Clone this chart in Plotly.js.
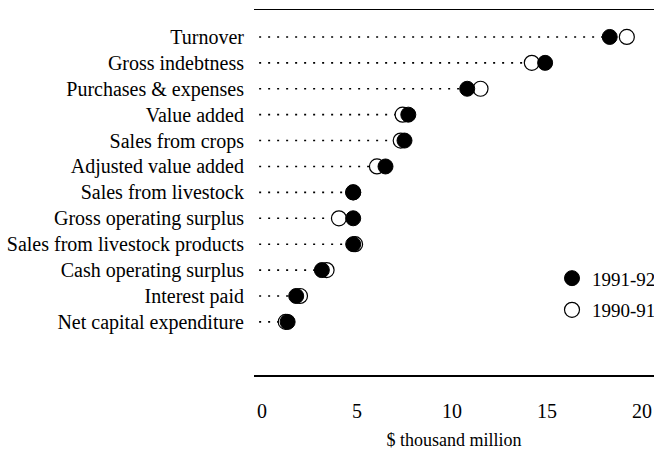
<!DOCTYPE html>
<html>
<head>
<meta charset="utf-8">
<script src="https://cdn.plot.ly/plotly-3.0.1.min.js"></script>
<style>html,body{margin:0;padding:0;background:#fff;}#chart{width:654px;height:452px;}</style>
</head>
<body>
<div id="chart"></div>
<script>
const categories = ["Turnover","Gross indebtness","Purchases & expenses","Value added","Sales from crops","Adjusted value added","Sales from livestock","Gross operating surplus","Sales from livestock products","Cash operating surplus","Interest paid","Net capital expenditure"];
const values9192 = [18.3, 14.9, 10.8, 7.7, 7.5, 6.5, 4.8, 4.8, 4.8, 3.15, 1.8, 1.35];
const values9091 = [19.2, 14.2, 11.5, 7.4, 7.3, 6.05, 4.8, 4.05, 4.9, 3.4, 2.0, 1.25];
const seriesNames = ["1991-92", "1990-91"];
const xTicks = [0, 5, 10, 15, 20];

const lx = [], ly = [];
categories.forEach((c, i) => {
  lx.push(-0.15, Math.min(values9192[i], values9091[i]), null);
  ly.push(c, c, null);
});

const serif = "'Liberation Serif', 'Times New Roman', serif";

const traces = [
  {x: lx, y: ly, type: "scatter", mode: "lines", showlegend: false, hoverinfo: "skip",
   line: {color: "#000", width: 1.6, dash: "2px,7px"}},
  {x: values9091, y: categories, type: "scatter", mode: "markers", name: seriesNames[1], legendgroup: "b", legendrank: 2,
   marker: {size: 15, color: "#fff", line: {color: "#000", width: 1.2}}},
  {x: values9192, y: categories, type: "scatter", mode: "markers", name: seriesNames[0], legendgroup: "a", legendrank: 1,
   marker: {size: 15, color: "#000", line: {color: "#000", width: 1}}}
];

const layout = {
  width: 654, height: 452,
  margin: {l: 254, r: 0, t: 10, b: 77, autoexpand: false},
  paper_bgcolor: "#fff", plot_bgcolor: "#fff",
  font: {family: serif, color: "#000", size: 16},
  showlegend: true,
  legend: {x: 0.745, y: 0.317, xanchor: "left", yanchor: "top", traceorder: "grouped", tracegroupgap: 4,
           font: {family: serif, size: 19, color: "#000"}, bgcolor: "rgba(0,0,0,0)"},
  xaxis: {range: [-0.42, 20.63], tickvals: xTicks, ticktext: xTicks.map(String),
          showgrid: false, zeroline: false, showline: true, mirror: true, linecolor: "#000", linewidth: 1.5,
          ticks: "outside", ticklen: 17, tickcolor: "rgba(0,0,0,0)",
          tickfont: {family: serif, size: 20},
          title: {text: "$ thousand million", font: {family: serif, size: 18}, standoff: 13}},
  yaxis: {type: "category", categoryorder: "array", categoryarray: categories, range: [13.05, -1.04],
          showgrid: false, zeroline: false, showline: false,
          ticks: "outside", ticklen: 5, tickcolor: "rgba(0,0,0,0)",
          tickfont: {family: serif, size: 20}}
};

Plotly.newPlot("chart", traces, layout, {displayModeBar: false, staticPlot: true});
</script>
</body>
</html>
